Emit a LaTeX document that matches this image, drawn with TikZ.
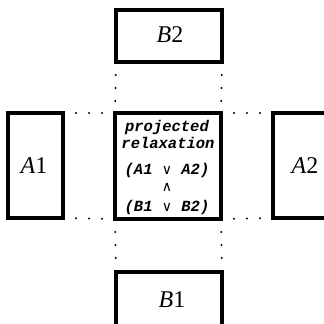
\documentclass[tikz,border=0pt]{standalone}
\usepackage{fontspec}
\newfontfamily\labfont{Liberation Serif}
\newfontfamily\relfont{Liberation Mono}
\newfontfamily\symfont{DejaVu Sans}
\begin{document}
\begin{tikzpicture}[x=1pt,y=-1pt,
  box/.style={draw=black,line width=3.2pt},
  link/.style={line width=2.2pt,line cap=round,dash pattern=on 0.01pt off 13pt,dash phase=-13pt},
  lab/.style={font=\labfont\fontsize{24}{27}\selectfont},
  rel/.style={font=\relfont\fontsize{15.5}{18}\selectfont\bfseries\itshape,inner sep=0pt},
  op/.style={font=\symfont\fontsize{14}{15}\selectfont}]
\useasboundingbox (0,0) rectangle (324,324);
\fill[white] (0,0) rectangle (324,324);
\clip (0,0) rectangle (324,324);
% boxes
\draw[box] (116,10) rectangle (222,62);
\draw[box] (8,113) rectangle (63,218);
\draw[box] (115,113) rectangle (221,219);
\draw[box] (273,113) rectangle (340,218);
\draw[box] (116,272) rectangle (222,340);
% corner coordinates
\coordinate (b2l) at (116,62); \coordinate (b2r) at (222,62);
\coordinate (ctl) at (115,113); \coordinate (ctr) at (221,113);
\coordinate (cbl) at (115,219); \coordinate (cbr) at (221,219);
\coordinate (b1l) at (116,272); \coordinate (b1r) at (222,272);
\coordinate (a1t) at (63,113); \coordinate (a1b) at (63,218);
\coordinate (a2t) at (273,113); \coordinate (a2b) at (273,218);
% dotted links
\draw[link] (b2l) -- (ctl);
\draw[link] (b2r) -- (ctr);
\draw[link] (cbl) -- (b1l);
\draw[link] (cbr) -- (b1r);
\draw[link] (a1t) -- (ctl);
\draw[link] (a1b) -- (cbl);
\draw[link] (ctr) -- (a2t);
\draw[link] (cbr) -- (a2b);
% labels
\node[lab] (B2) at (170,35) {\textit{B}2};
\node[lab] (A1) at (34,166) {\textit{A}1};
\node[lab] (A2) at (305,166) {\textit{A}2};
\node[lab] (B1) at (172,300) {\textit{B}1};
% relaxation text
\node[rel] (t1) at (167,127) {projected};
\node[rel] (t2) at (168,143) {relaxation};
\node[rel] (t3) at (167,170) {(A1 {\symfont\mdseries\upshape\fontsize{14}{15}\selectfont ∨} A2)};
\node[op,inner sep=0pt] (t4) at (167,187) {∧};
\node[rel] (t5) at (167,207) {(B1 {\symfont\mdseries\upshape\fontsize{14}{15}\selectfont ∨} B2)};
\end{tikzpicture}
\end{document}
